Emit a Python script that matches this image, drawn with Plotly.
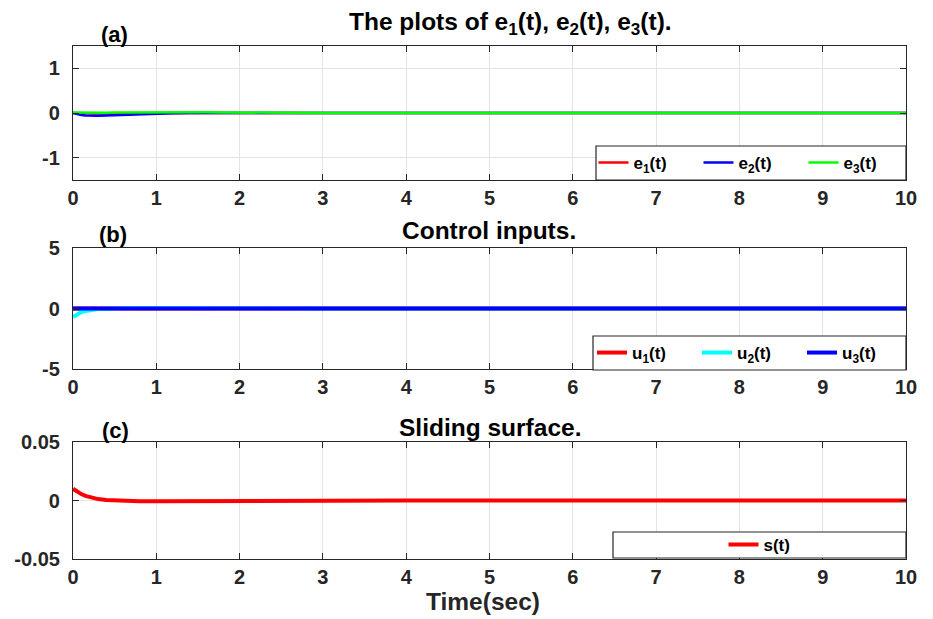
import plotly.graph_objects as go

# ---------------- data ----------------
t = [0, 0.05, 0.1, 0.15, 0.2, 0.25, 0.3, 0.4, 0.5, 0.6, 0.7, 0.8, 1.0, 1.2,
     1.4, 1.6, 1.8, 2.0, 2.5, 3, 4, 5, 6, 7, 8, 9, 10]

e1 = [0, -0.005, -0.01, -0.012, -0.013, -0.013, -0.012, -0.01, -0.008, -0.006,
      -0.005, -0.004, -0.002, 0, 0, 0, 0, 0, 0, 0, 0, 0, 0, 0, 0, 0, 0]
e2 = [0, -0.025, -0.045, -0.055, -0.06, -0.062, -0.062, -0.058, -0.05, -0.04,
      -0.032, -0.025, -0.012, -0.004, 0.0, 0.002, 0.002, 0.001, 0, 0, 0, 0, 0, 0, 0, 0, 0]
e3 = [0.01, 0.008, 0.006, 0.005, 0.005, 0.006, 0.007, 0.008, 0.01, 0.012,
      0.014, 0.016, 0.019, 0.021, 0.02, 0.016, 0.012, 0.008, 0.003, 0.001, 0, 0, 0, 0, 0, 0, 0]

u1 = [0] * len(t)
u2 = [-0.7, -0.45, -0.3, -0.2, -0.13, -0.08, -0.05, -0.02, 0.02, 0.04,
      0.05, 0.05, 0.04, 0.02, 0.01, 0, 0, 0, 0, 0, 0, 0, 0, 0, 0, 0, 0]
u3 = [0] * len(t)

s = [0.01, 0.0075, 0.0055, 0.004, 0.0028, 0.0019, 0.0012, 0.0004, 0.0, -0.0003,
     -0.0005, -0.0006, -0.0006, -0.0005, -0.0004, -0.0003, -0.0002, -0.0001,
     0, 0, 0, 0, 0, 0, 0, 0, 0]

x_ticks = [0, 1, 2, 3, 4, 5, 6, 7, 8, 9, 10]
ya_vals, ya_text = [-1, 0, 1], ["-1", "0", "1"]
yb_vals, yb_text = [-5, 0, 5], ["-5", "0", "5"]
yc_vals, yc_text = [-0.05, 0, 0.05], ["-0.05", "0", "0.05"]

# ---------------- layout geometry (window pixels; page has 8px body margin) ----------------
OFF = 8
W, H = 933 - OFF, 619 - OFF
L, R, T, B = 73, 906, 46, 559   # plot area edges in window pixels


def px(x):
    return (x - L) / (R - L)


def py(y):
    return (B - y) / (B - T)


FONT = "Liberation Sans"
fig = go.Figure()

fig.add_trace(go.Scatter(x=t, y=e1, mode="lines", name="<b>e<sub>1</sub>(t)</b>",
                         line=dict(color="#ff0000", width=2.5), xaxis="x", yaxis="y", legend="legend"))
fig.add_trace(go.Scatter(x=t, y=e2, mode="lines", name="<b>e<sub>2</sub>(t)</b>",
                         line=dict(color="#0000ff", width=2.5), xaxis="x", yaxis="y", legend="legend"))
fig.add_trace(go.Scatter(x=t, y=e3, mode="lines", name="<b>e<sub>3</sub>(t)</b>",
                         line=dict(color="#00ff00", width=2.5), xaxis="x", yaxis="y", legend="legend"))

fig.add_trace(go.Scatter(x=t, y=u1, mode="lines", name="<b>u<sub>1</sub>(t)</b>",
                         line=dict(color="#ff0000", width=4), xaxis="x2", yaxis="y2", legend="legend2"))
fig.add_trace(go.Scatter(x=t, y=u2, mode="lines", name="<b>u<sub>2</sub>(t)</b>",
                         line=dict(color="#00ffff", width=4), xaxis="x2", yaxis="y2", legend="legend2"))
fig.add_trace(go.Scatter(x=t, y=u3, mode="lines", name="<b>u<sub>3</sub>(t)</b>",
                         line=dict(color="#0000ff", width=4), xaxis="x2", yaxis="y2", legend="legend2"))

fig.add_trace(go.Scatter(x=t, y=s, mode="lines", name="<b>s(t)</b>",
                         line=dict(color="#ff0000", width=4), xaxis="x3", yaxis="y3", legend="legend3"))

axis_common = dict(showline=True, linecolor="#262626", linewidth=1.2, mirror="ticks",
                   ticks="inside", ticklen=6, tickcolor="#262626", tickwidth=1.2,
                   showgrid=True, gridcolor="#e3e3e3", gridwidth=1, zeroline=False,
                   automargin=False,
                   tickfont=dict(family=FONT, size=20, color="#262626"))

domains = {
    "a": (py(180), py(46)),
    "b": (py(369), py(248)),
    "c": (py(559), py(442)),
}

xax = dict(axis_common, range=[0, 10], tickvals=x_ticks, ticktext=[f"<b>{v}</b>" for v in x_ticks],
           ticklabelstandoff=0)
fig.update_layout(
    xaxis=dict(xax, anchor="y", domain=[0, 1]),
    xaxis2=dict(xax, anchor="y2", domain=[0, 1]),
    xaxis3=dict(xax, anchor="y3", domain=[0, 1]),
    yaxis=dict(axis_common, anchor="x", domain=list(domains["a"]), range=[-1.5, 1.5],
               tickvals=ya_vals, ticktext=[f"<b>{v}</b>" for v in ya_text], ticklabelstandoff=8),
    yaxis2=dict(axis_common, anchor="x2", domain=list(domains["b"]), range=[-5, 5],
                tickvals=yb_vals, ticktext=[f"<b>{v}</b>" for v in yb_text], ticklabelstandoff=8),
    yaxis3=dict(axis_common, anchor="x3", domain=list(domains["c"]), range=[-0.05, 0.05],
                tickvals=yc_vals, ticktext=[f"<b>{v}</b>" for v in yc_text], ticklabelstandoff=8),
)

# legend boxes (shapes) and borderless legends inside
boxes = [
    ("legend", 596, 146, 906, 180, 60),
    ("legend2", 593, 336, 906, 370, 60),
    ("legend3", 613, 532, 906, 558, 0),
]
shapes = []
leg_font = dict(family=FONT, size=17, color="#000000")
for name, x0, y0, x1, y1, ew in boxes:
    shapes.append(dict(type="rect", xref="paper", yref="paper",
                       x0=px(x0), x1=px(x1), y0=py(y1), y1=py(y0),
                       fillcolor="white", line=dict(color="#262626", width=1.2), layer="above"))
    fig.layout[name] = dict(orientation="h", x=px((x0 + x1) / 2), y=py((y0 + y1) / 2),
                            xanchor="center", yanchor="middle", bgcolor="rgba(0,0,0,0)",
                            borderwidth=0, font=leg_font, itemwidth=30, tracegroupgap=0,
                            entrywidth=ew)

annotations = []
titles = [
    ("<b>The plots of e<sub>1</sub>(t), e<sub>2</sub>(t), e<sub>3</sub>(t).</b>", 510, 23),
    ("<b>Control inputs.</b>", 489, 230),
    ("<b>Sliding surface.</b>", 490, 427),
]
for txt, x, y in titles:
    annotations.append(dict(text=txt, x=px(x), y=py(y), xref="paper", yref="paper",
                            xanchor="center", yanchor="middle", showarrow=False,
                            font=dict(family=FONT, size=24.5, color="#000000")))
labels = [("<b>(a)</b>", 114, 34), ("<b>(b)</b>", 113, 234), ("<b>(c)</b>", 115, 430)]
for txt, x, y in labels:
    annotations.append(dict(text=txt, x=px(x), y=py(y), xref="paper", yref="paper",
                            xanchor="center", yanchor="middle", showarrow=False,
                            font=dict(family=FONT, size=22, color="#000000")))
annotations.append(dict(text="<b>Time(sec)</b>", x=px(483), y=py(601), xref="paper", yref="paper",
                        xanchor="center", yanchor="middle", showarrow=False,
                        font=dict(family=FONT, size=24.5, color="#262626")))

fig.update_layout(
    width=W, height=H,
    margin=dict(l=L - OFF, r=933 - R, t=T - OFF, b=619 - B, pad=0),
    paper_bgcolor="white", plot_bgcolor="white",
    shapes=shapes, annotations=annotations, showlegend=True,
)

fig.write_html("out.html")
